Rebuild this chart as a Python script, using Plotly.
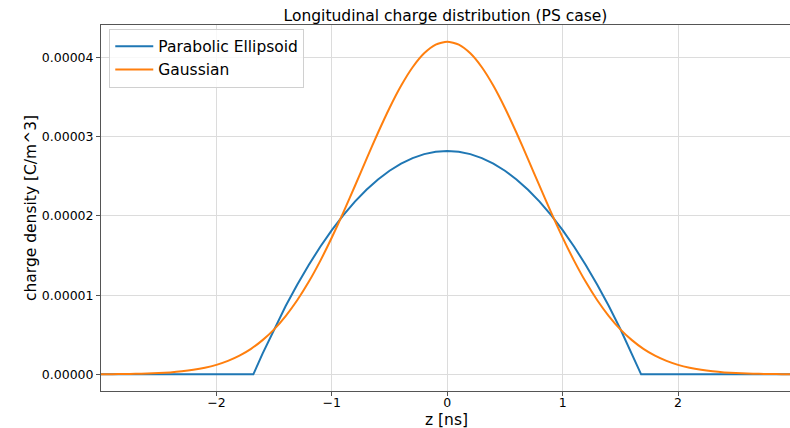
import plotly.graph_objects as go

# Data (values in C/m^3)
z_gauss = [-3.0, -2.9, -2.8, -2.7, -2.6, -2.5, -2.4, -2.3, -2.2, -2.1, -2.0,
           -1.9, -1.8, -1.7, -1.6, -1.5, -1.4, -1.3, -1.2, -1.1, -1.0,
           -0.9, -0.8, -0.7, -0.6, -0.5, -0.4, -0.3, -0.2, -0.1, 0.0,
           0.1, 0.2, 0.3, 0.4, 0.5, 0.6, 0.7, 0.8, 0.9, 1.0,
           1.1, 1.2, 1.3, 1.4, 1.5, 1.6, 1.7, 1.8, 1.9, 2.0,
           2.1, 2.2, 2.3, 2.4, 2.5, 2.6, 2.7, 2.8, 2.9, 3.0]
gauss_e5 = [0.0014, 0.0024, 0.0040, 0.0064, 0.0103, 0.0162, 0.0251, 0.0381, 0.0569, 0.0833, 0.120,
            0.170, 0.236, 0.322, 0.432, 0.568, 0.736, 0.935, 1.168, 1.433, 1.727,
            2.044, 2.378, 2.717, 3.050, 3.363, 3.643, 3.877, 4.053, 4.163, 4.200,
            4.163, 4.053, 3.877, 3.643, 3.363, 3.050, 2.717, 2.378, 2.044, 1.727,
            1.433, 1.168, 0.935, 0.736, 0.568, 0.432, 0.322, 0.236, 0.170, 0.120,
            0.0833, 0.0569, 0.0381, 0.0251, 0.0162, 0.0103, 0.0064, 0.0040, 0.0024, 0.0014]

z_par = [-3.0, -1.68, -1.6, -1.5, -1.4, -1.3, -1.2, -1.1, -1.0,
         -0.9, -0.8, -0.7, -0.6, -0.5, -0.4, -0.3, -0.2, -0.1, 0.0,
         0.1, 0.2, 0.3, 0.4, 0.5, 0.6, 0.7, 0.8, 0.9, 1.0,
         1.1, 1.2, 1.3, 1.4, 1.5, 1.6, 1.68, 3.0]
par_e5 = [0.0, 0.0, 0.262, 0.572, 0.862, 1.131, 1.381, 1.611, 1.821,
          2.011, 2.181, 2.330, 2.460, 2.570, 2.660, 2.730, 2.780, 2.810, 2.820,
          2.810, 2.780, 2.730, 2.660, 2.570, 2.460, 2.330, 2.181, 2.011, 1.821,
          1.611, 1.381, 1.131, 0.862, 0.572, 0.262, 0.0, 0.0]

y_ticks = [0.0, 1e-5, 2e-5, 3e-5, 4e-5]
y_tick_labels = ["0.00000", "0.00001", "0.00002", "0.00003", "0.00004"]
x_ticks = [-2, -1, 0, 1, 2]

gauss = [v * 1e-5 for v in gauss_e5]
par = [v * 1e-5 for v in par_e5]

FONT = "DejaVu Sans"
W, H = 790, 428
ML, MR, MT, MB = 101, 0, 25, 37
PW = W - ML - MR
PH = H - MT - MB

fig = go.Figure()
fig.add_trace(go.Scatter(x=z_par, y=par, mode="lines", name="Parabolic Ellipsoid",
                         line=dict(color="#1f77b4", width=2)))
fig.add_trace(go.Scatter(x=z_gauss, y=gauss, mode="lines", name="Gaussian",
                         line=dict(color="#ff7f0e", width=2, shape="spline", smoothing=0.6)))

fig.update_layout(
    width=W, height=H,
    margin=dict(l=ML, r=MR, t=MT, b=MB),
    paper_bgcolor="white", plot_bgcolor="white",
    font=dict(family=FONT, size=13, color="black"),
    title=dict(text="Longitudinal charge distribution (PS case)", x=0.5, xanchor="center",
               xref="paper", y=1, yref="paper", yanchor="bottom", pad=dict(b=4),
               font=dict(size=15.5, color="black")),
    showlegend=True,
    legend=dict(x=0.012, y=0.99, xanchor="left", yanchor="top",
                bgcolor="rgba(255,255,255,0.8)", bordercolor="#d0d0d0", borderwidth=1,
                font=dict(size=15.5), tracegroupgap=0, itemwidth=38),
    xaxis=dict(range=[-3.0, 2.97], tickvals=x_ticks, showgrid=True, gridcolor="#dcdcdc",
               gridwidth=1, zeroline=False, showline=True, linecolor="#555555", linewidth=1,
               mirror=True, ticks="outside", ticklen=4, tickcolor="#555555",
               tickfont=dict(size=12.5), ticklabelstandoff=-4),
    yaxis=dict(range=[-0.21e-5, 4.41e-5], tickvals=y_ticks, ticktext=y_tick_labels,
               showgrid=True, gridcolor="#dcdcdc", gridwidth=1, zeroline=False,
               showline=True, linecolor="#555555", linewidth=1, mirror=False,
               ticks="outside", ticklen=4, tickcolor="#555555", tickfont=dict(size=12.5)),
    annotations=[
        dict(text="z [ns]", xref="paper", yref="paper", x=(447 - ML) / PW,
             y=-(420 - MT - PH) / PH, xanchor="center", yanchor="middle",
             showarrow=False, font=dict(size=15.5)),
        dict(text="charge density [C/m^3]", xref="paper", yref="paper",
             x=(31 - ML) / PW, y=1 - (208 - MT) / PH, xanchor="center", yanchor="middle",
             textangle=-90, showarrow=False, font=dict(size=15.5)),
    ],
)

fig.write_html("out.html")
